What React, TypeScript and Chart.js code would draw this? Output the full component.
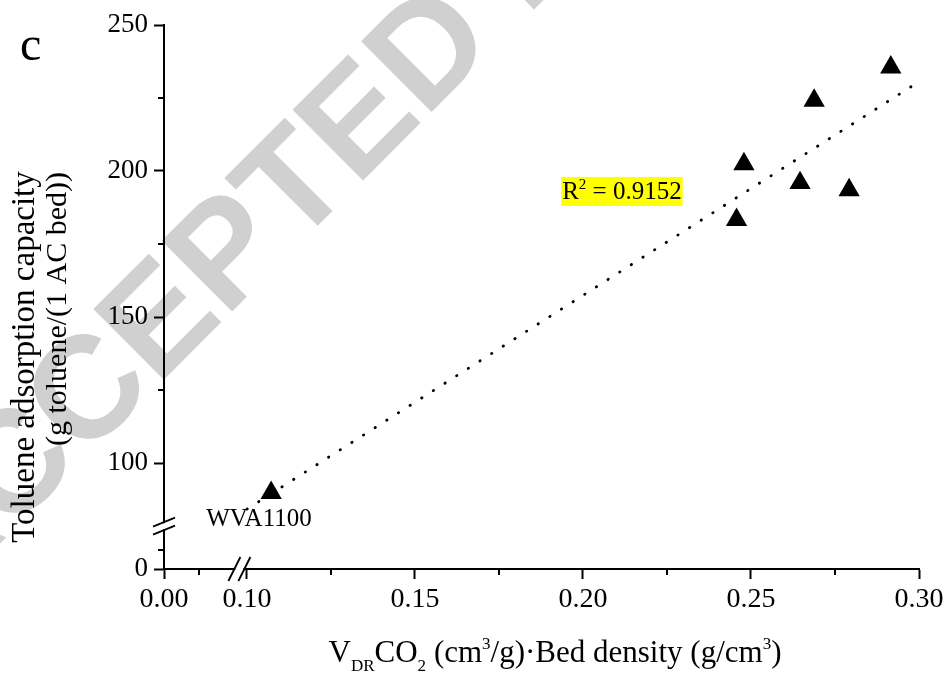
import React, { useEffect, useRef } from 'react';
import { Chart, registerables, LinearScale } from 'chart.js';

Chart.register(...registerables);

// ---------------- data ----------------
const sampleNames = ['WVA1100', 'S2', 'S3', 'S4', 'S5', 'S6', 'S7'];
const xValues = [0.1072, 0.2457, 0.2479, 0.2646, 0.2688, 0.2792, 0.2916];
const yValues = [89.8, 183.3, 202.4, 195.9, 224.1, 193.5, 235.5];
const fitX = [0.10, 0.30];
const fitY = [84.2, 230.6];
const r2Text = '0.9152';
const r2Pos = { x: 0.1935, y: 193 };
const labelledSample = 'WVA1100';

const xMajorTicks = [0, 0.10, 0.15, 0.20, 0.25, 0.30];
const xTickLabels = ['0.00', '0.10', '0.15', '0.20', '0.25', '0.30'];
const xMinorTicks = [0.05, 0.125, 0.175, 0.225, 0.275];
const yMajorTicks = [0, 100, 150, 200, 250];
const yTickLabels = ['0', '100', '150', '200', '250'];
const yMinorTicks = [25, 125, 175, 225];

const xBreakValue = 0.0962;
const yBreakValue = 65;

// broken-axis mapping: [value, fraction of axis length]
const SCALE_KNOTS: Record<string, number[][]> = {
  x: [[0, 0], [0.09, 0.0834], [0.10, 0.1099], [0.30, 1]],
  y: [[0, 0], [50, 0.0699], [80, 0.0875], [250, 1]],
};

const SERIF = '"Liberation Serif", "Times New Roman", serif';

function toDecimal(knots: number[][], v: number) {
  for (let i = 1; i < knots.length; i++) {
    if (v <= knots[i][0] || i === knots.length - 1) {
      const [v0, d0] = knots[i - 1];
      const [v1, d1] = knots[i];
      return d0 + ((v - v0) / (v1 - v0)) * (d1 - d0);
    }
  }
  return 0;
}
function fromDecimal(knots: number[][], d: number) {
  for (let i = 1; i < knots.length; i++) {
    if (d <= knots[i][1] || i === knots.length - 1) {
      const [v0, d0] = knots[i - 1];
      const [v1, d1] = knots[i];
      return v0 + ((d - d0) / (d1 - d0)) * (v1 - v0);
    }
  }
  return 0;
}

class BrokenLinearScale extends LinearScale {
  static id = 'brokenLinear';
  static defaults = LinearScale.defaults;
  getPixelForValue(value: any) {
    if (value === null || value === undefined || isNaN(value)) return NaN;
    const k = SCALE_KNOTS[(this as any).axis];
    return (this as any).getPixelForDecimal(toDecimal(k, value));
  }
  getValueForPixel(pixel: number) {
    const k = SCALE_KNOTS[(this as any).axis];
    return fromDecimal(k, (this as any).getDecimalForPixel(pixel));
  }
}
Chart.register(BrokenLinearScale as any);

const near = (a: number, b: number) => Math.abs(a - b) < 1e-6;
const isIn = (arr: number[], v: number) => arr.some((a) => near(a, v));

function drawRich(ctx: CanvasRenderingContext2D, parts: [string, number, number][], cx: number, base: number, size: number) {
  let total = 0;
  const widths: number[] = [];
  for (const [t, s] of parts) {
    ctx.font = `${size * s}px ${SERIF}`;
    const w = ctx.measureText(t).width;
    widths.push(w);
    total += w;
  }
  let x = cx - total / 2;
  ctx.textAlign = 'left';
  ctx.textBaseline = 'alphabetic';
  parts.forEach(([t, s, dy], i) => {
    ctx.font = `${size * s}px ${SERIF}`;
    ctx.fillText(t, x, base + dy * size);
    x += widths[i];
  });
}

const decorPlugin = {
  id: 'decor',
  beforeDraw(chart: any) {
    const ctx: CanvasRenderingContext2D = chart.ctx;
    ctx.save();
    ctx.fillStyle = '#ffffff';
    ctx.fillRect(0, 0, chart.width, chart.height);
    // watermark
    ctx.font = 'bold 145px "Liberation Sans", Arial, sans-serif';
    ctx.fillStyle = '#d0d0d0';
    const pre = ctx.measureText('ACCEPTE').width;
    const wd = ctx.measureText('D').width;
    ctx.translate(425, 45);
    ctx.rotate(-Math.PI / 4);
    ctx.textAlign = 'left';
    ctx.textBaseline = 'alphabetic';
    ctx.fillText('ACCEPTED MANUSCRIPT', -(pre + wd / 2), 52);
    ctx.restore();
  },
  afterDraw(chart: any) {
    const ctx: CanvasRenderingContext2D = chart.ctx;
    const xs = chart.scales.x;
    const ys = chart.scales.y;
    const area = chart.chartArea;
    ctx.save();
    ctx.strokeStyle = '#000';
    ctx.fillStyle = '#000';
    ctx.lineWidth = 2;
    // minor ticks
    for (const v of xMinorTicks) {
      const px = Math.round(xs.getPixelForValue(v));
      ctx.beginPath();
      ctx.moveTo(px, area.bottom);
      ctx.lineTo(px, area.bottom + 6);
      ctx.stroke();
    }
    for (const v of yMinorTicks) {
      const py = Math.round(ys.getPixelForValue(v));
      ctx.beginPath();
      ctx.moveTo(area.left - 6, py);
      ctx.lineTo(area.left, py);
      ctx.stroke();
    }
    // x break
    const bx = xs.getPixelForValue(xBreakValue);
    const ay = area.bottom;
    ctx.fillStyle = '#fff';
    ctx.fillRect(bx - 4, ay - 2, 8, 4);
    ctx.lineWidth = 1.8;
    for (const c of [bx - 5, bx + 5]) {
      ctx.beginPath();
      ctx.moveTo(c - 6, ay + 12);
      ctx.lineTo(c + 6, ay - 12);
      ctx.stroke();
    }
    // y break
    const by = ys.getPixelForValue(yBreakValue);
    const ax = area.left;
    ctx.fillRect(ax - 2, by - 3, 4, 6);
    for (const c of [by - 4, by + 4]) {
      ctx.beginPath();
      ctx.moveTo(ax - 11, c + 4.5);
      ctx.lineTo(ax + 11, c - 4.5);
      ctx.stroke();
    }
    ctx.fillStyle = '#000';
    // panel letter
    ctx.font = `48px ${SERIF}`;
    ctx.textAlign = 'left';
    ctx.textBaseline = 'alphabetic';
    ctx.fillText('c', 20, 60);
    // sample label
    const li = sampleNames.indexOf(labelledSample);
    const lpx = xs.getPixelForValue(xValues[li]);
    const lpy = ys.getPixelForValue(yValues[li]);
    ctx.font = `25px ${SERIF}`;
    ctx.fillText(labelledSample, lpx - 65, lpy + 33);
    // R^2 box
    const rx = xs.getPixelForValue(r2Pos.x);
    const ry = ys.getPixelForValue(r2Pos.y);
    const rs = 25;
    ctx.font = `${rs}px ${SERIF}`;
    const wR = ctx.measureText('R').width;
    const wRest = ctx.measureText(' = ' + r2Text).width;
    ctx.font = `${rs * 0.6}px ${SERIF}`;
    const w2 = ctx.measureText('2').width;
    const tw = wR + w2 + wRest;
    ctx.fillStyle = '#ffff00';
    ctx.fillRect(rx, ry - 14.5, tw + 2, 29);
    ctx.fillStyle = '#000';
    ctx.font = `${rs}px ${SERIF}`;
    ctx.fillText('R', rx + 1, ry + 8);
    ctx.font = `${rs * 0.6}px ${SERIF}`;
    ctx.fillText('2', rx + 1 + wR, ry - 2);
    ctx.font = `${rs}px ${SERIF}`;
    ctx.fillText(' = ' + r2Text, rx + 1 + wR + w2, ry + 8);
    // x title
    drawRich(ctx, [
      ['V', 1, 0], ['DR', 0.55, 0.28], ['CO', 1, 0], ['2', 0.55, 0.28],
      [' (cm', 1, 0], ['3', 0.55, -0.42], ['/g)\u00b7Bed density (g/cm', 1, 0], ['3', 0.55, -0.42], [')', 1, 0],
    ], 555, 662, 31);
    // y title
    ctx.textAlign = 'center';
    ctx.font = `33px ${SERIF}`;
    ctx.save();
    ctx.translate(34, 357);
    ctx.rotate(-Math.PI / 2);
    ctx.fillText('Toluene adsorption capacity', 0, 0);
    ctx.restore();
    ctx.font = `30px ${SERIF}`;
    ctx.save();
    ctx.translate(66, 309);
    ctx.rotate(-Math.PI / 2);
    ctx.fillText('(g toluene/(1 AC bed))', 0, 0);
    ctx.restore();
    ctx.restore();
  },
};

export default function App() {
  const ref = useRef<HTMLCanvasElement>(null);
  useEffect(() => {
    if (!ref.current) return;
    const points = xValues.map((x, i) => ({ x, y: yValues[i] }));
    const fit = fitX.map((x, i) => ({ x, y: fitY[i] }));
    const chart = new Chart(ref.current, {
      type: 'scatter',
      data: {
        datasets: [
          {
            type: 'scatter',
            data: points,
            pointStyle: 'triangle',
            pointRadius: 12.3,
            backgroundColor: '#000',
            borderColor: '#000',
            borderWidth: 0,
            order: 1,
          } as any,
          {
            type: 'line',
            data: fit,
            borderColor: '#000',
            borderWidth: 2.8,
            borderCapStyle: 'round',
            borderDash: [0.4, 13.4],
            pointRadius: 0,
            fill: false,
            showLine: true,
            order: 2,
          } as any,
        ],
      },
      options: {
        animation: false,
        responsive: false,
        devicePixelRatio: 1,
        layout: { padding: { top: 25, right: 29, left: 0, bottom: 0 } },
        plugins: { legend: { display: false }, tooltip: { enabled: false } },
        scales: {
          x: {
            type: 'brokenLinear' as any,
            min: 0,
            max: 0.3,
            afterBuildTicks: (s: any) => {
              s.ticks = [...xMajorTicks, ...xMinorTicks].sort((a, b) => a - b).map((v) => ({ value: v }));
            },
            afterFit: (s: any) => { s.height = 107; },
            grid: {
              drawOnChartArea: false,
              tickLength: 10,
              tickWidth: 2,
              tickColor: (c: any) => (c.tick && isIn(xMinorTicks, c.tick.value) ? 'rgba(0,0,0,0)' : '#000'),
            },
            border: { color: '#000', width: 2 },
            ticks: {
              autoSkip: false,
              maxRotation: 0,
              padding: 4,
              color: '#000',
              font: { family: SERIF, size: 28 },
              callback: (v: any) => {
                const i = xMajorTicks.findIndex((m) => near(m, Number(v)));
                return i >= 0 ? xTickLabels[i] : '';
              },
            },
          } as any,
          y: {
            type: 'brokenLinear' as any,
            min: 0,
            max: 250,
            afterBuildTicks: (s: any) => {
              s.ticks = [...yMajorTicks, ...yMinorTicks].sort((a, b) => a - b).map((v) => ({ value: v }));
            },
            afterFit: (s: any) => { s.width = 164; },
            grid: {
              drawOnChartArea: false,
              tickLength: 10,
              tickWidth: 2,
              tickColor: (c: any) => (c.tick && isIn(yMinorTicks, c.tick.value) ? 'rgba(0,0,0,0)' : '#000'),
            },
            border: { color: '#000', width: 2 },
            ticks: {
              autoSkip: false,
              padding: 6,
              color: '#000',
              font: { family: SERIF, size: 27 },
              callback: (v: any) => {
                const i = yMajorTicks.findIndex((m) => near(m, Number(v)));
                return i >= 0 ? yTickLabels[i] : '';
              },
            },
          } as any,
        },
      },
      plugins: [decorPlugin as any],
    });
    return () => chart.destroy();
  }, []);
  return (
    <div style={{ position: 'fixed', left: 0, top: 0, width: 948, height: 676, background: '#fff' }}>
      <canvas ref={ref} width={948} height={676} style={{ width: 948, height: 676, display: 'block' }} />
    </div>
  );
}
